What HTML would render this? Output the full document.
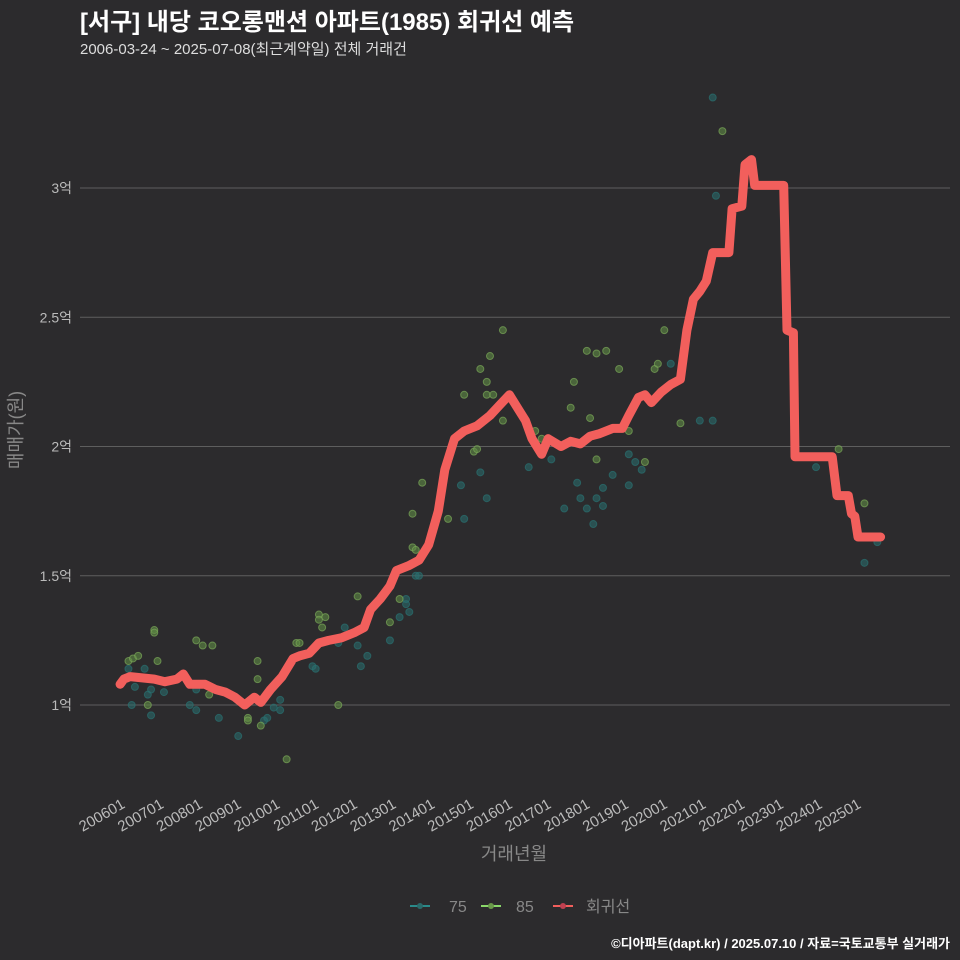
<!DOCTYPE html>
<html><head><meta charset="utf-8"><style>
body{margin:0;background:#2c2b2d;}
svg{display:block;font-family:"Liberation Sans","Noto Sans CJK KR",sans-serif;}
</style></head><body>
<svg id="chart" width="960" height="960">
<rect width="960" height="960" fill="#2c2b2d"/>
<text x="80" y="30" fill="#fff" font-size="24" font-weight="bold">[서구] 내당 코오롱맨션 아파트(1985) 회귀선 예측</text>
<text x="80" y="54" fill="#ddd" font-size="15">2006-03-24 ~ 2025-07-08(최근계약일) 전체 거래건</text>
<g id="grid"></g><g id="pts"></g><g id="line"></g><g id="axes"></g>
<text transform="translate(22,430) rotate(-90)" text-anchor="middle" fill="#888" font-size="18">매매가(원)</text>
<text x="514" y="860" text-anchor="middle" fill="#888" font-size="18">거래년월</text>
<g>
<line x1="410" y1="906" x2="430" y2="906" stroke="#2a8a8a" stroke-width="2"/><circle cx="420" cy="906" r="3" fill="#2a6b6b"/>
<text x="449" y="912" fill="#888" font-size="16">75</text>
<line x1="481" y1="906" x2="501" y2="906" stroke="#8ad86a" stroke-width="2"/><circle cx="491" cy="906" r="3" fill="#6a9a4a"/>
<text x="516" y="912" fill="#888" font-size="16">85</text>
<line x1="553" y1="906" x2="573" y2="906" stroke="#f25f5c" stroke-width="2"/><circle cx="563" cy="906" r="3" fill="#c04050"/>
<text x="586" y="912" fill="#888" font-size="16">회귀선</text>
</g>
<text x="950" y="948" text-anchor="end" fill="#fff" font-size="13" font-weight="bold">©디아파트(dapt.kr) / 2025.07.10 / 자료=국토교통부 실거래가</text>
</svg>
<script>
const yTicks=[1,1.5,2,2.5,3];
const yTickLabels=["1억","1.5억","2억","2.5억","3억"];
const xTickLabels=["200601","200701","200801","200901","201001","201101","201201","201301","201401","201501","201601","201701","201801","201901","202001","202101","202201","202301","202401","202501"];
// months since 2006-01
const lineMonths=[-0.6,0.6,2.5,10,13.3,17,19,21,25.7,29,32,35,38,41,43,46,49.6,53,55,58,61,64,68,72,75,77,80,83,85,89,92,95,98,100,103,106,110,114,117,120,123,125,127,130,132,136,139,142,145,148,152,155,157,160,162,164,167,170,173,175,177,179,181,183,188,189,192,193,195,196,205,206,208,208.5,220,221.5,225,226,227,228,235];
const lineValues=[1.08,1.10,1.11,1.10,1.09,1.10,1.12,1.08,1.08,1.06,1.05,1.03,1.00,1.03,1.01,1.06,1.11,1.18,1.19,1.20,1.24,1.25,1.26,1.28,1.30,1.37,1.41,1.46,1.52,1.54,1.56,1.62,1.75,1.91,2.03,2.06,2.08,2.12,2.16,2.20,2.14,2.10,2.03,1.97,2.03,2.00,2.02,2.01,2.04,2.05,2.07,2.07,2.12,2.19,2.20,2.17,2.21,2.24,2.26,2.45,2.57,2.60,2.64,2.75,2.75,2.92,2.93,3.09,3.11,3.01,3.01,2.45,2.44,1.96,1.96,1.81,1.81,1.74,1.73,1.65,1.65];
const s85Months=[2,3.4,5,10,10,11,8,23,25,28,27,39,42,42,39,43,51,54,55,61,61,63,62,73,67,83,86,90,91,90,93,101,106,109,110,111,113,113,114,115,118,118,128,130,139,140,144,147,147,150,154,145,157,162,165,166,168,173,186,222,230];
const s85Values=[1.17,1.18,1.19,1.29,1.28,1.17,1.00,1.25,1.23,1.23,1.04,0.95,1.17,1.10,0.94,0.92,0.79,1.24,1.24,1.35,1.33,1.34,1.30,1.42,1.00,1.32,1.41,1.61,1.60,1.74,1.86,1.72,2.20,1.98,1.99,2.30,2.20,2.25,2.35,2.20,2.45,2.10,2.06,2.03,2.15,2.25,2.37,2.36,1.95,2.37,2.30,2.11,2.06,1.94,2.30,2.32,2.45,2.09,3.22,1.99,1.78];
const s75Months=[2,3,4,7,8,9,9,13,21,23,23,30,36,45,44,47,49,49,59,60,67,69,73,74,76,83,86,88,88,89,91,92,105,106,111,113,126,133,137,141,142,144,146,147,149,149,152,157,157,159,161,170,179,183,183,184,215,230,234];
const s75Values=[1.14,1.00,1.07,1.14,1.04,0.96,1.06,1.05,1.00,0.98,1.06,0.95,0.88,0.95,0.94,0.99,0.98,1.02,1.15,1.14,1.24,1.30,1.23,1.15,1.19,1.25,1.34,1.39,1.41,1.36,1.50,1.50,1.85,1.72,1.90,1.80,1.92,1.95,1.76,1.86,1.80,1.76,1.70,1.80,1.84,1.77,1.89,1.85,1.97,1.94,1.91,2.32,2.10,2.10,3.35,2.97,1.92,1.55,1.63];
const X=m=>122+m*3.228;
const Y=v=>705-(v-1)*258.5;
const NS="http://www.w3.org/2000/svg";
function mk(tag,attrs,parent){const e=document.createElementNS(NS,tag);for(const k in attrs)e.setAttribute(k,attrs[k]);document.getElementById(parent).appendChild(e);return e;}
yTicks.forEach((t,i)=>{
  const g=mk('line',{x1:80,x2:950,y1:Y(t),y2:Y(t),stroke:'#5e5e5e','stroke-width':1},'grid');
  
  
  const l=mk('text',{x:72,y:Y(t)+5,'text-anchor':'end',fill:'#bbb','font-size':14},'axes');
  l.textContent=yTickLabels[i];
  
  
});
xTickLabels.forEach((t,i)=>{
  const x=X(i*12);
  const l=mk('text',{transform:`translate(${x+4},${807}) rotate(-30)`,'text-anchor':'end',fill:'#bbb','font-size':15},'axes');
  l.textContent=t;
  
  
});
s75Months.forEach((m,i)=>{
  const c=mk('circle',{cx:X(m),cy:Y(s75Values[i]),r:3.5,fill:'#2a7070','fill-opacity':0.55,stroke:'#2a7070','stroke-opacity':0.7},'pts');
  
  
});
s85Months.forEach((m,i)=>{
  const c=mk('circle',{cx:X(m),cy:Y(s85Values[i]),r:3.5,fill:'#5f8a45','fill-opacity':0.6,stroke:'#7aa859','stroke-opacity':0.7},'pts');
  
  
});
const d=lineMonths.map((m,i)=>(i?'L':'M')+X(m).toFixed(1)+','+Y(lineValues[i]).toFixed(1)).join('');
const p=mk('path',{d:d,fill:'none',stroke:'#f25f5c','stroke-width':9,'stroke-linejoin':'round','stroke-linecap':'round'},'line');


</script>
</body></html>
